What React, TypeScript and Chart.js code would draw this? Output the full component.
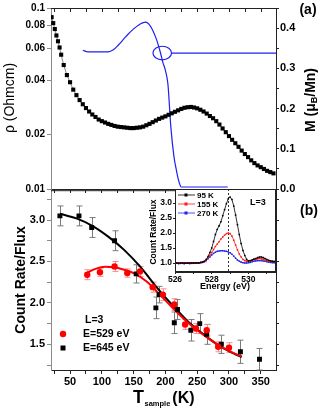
import React, { useEffect, useRef } from "react";
import { Chart, registerables } from "chart.js";
Chart.register(...registerables);

const FF = '"Liberation Sans", Arial, Helvetica, sans-serif';
const AX = "#222";
const AXL = "#8a8a8a";
const BLUE = "#1f1ff2";
const RED = "#ff0000";

// ===== panel (a): resistivity and magnetisation vs temperature =====
const tempMin = 20;
const tempMax = 374;
const tempTicks = [25, 50, 75, 100, 125, 150, 175, 200, 225, 250, 275, 300, 325, 350];

const rhoT = [21, 23.5, 26, 28.5, 31, 33.5, 36, 40, 45, 50, 55, 60, 65, 70, 75, 80, 85, 90, 95, 100, 105, 110, 115, 120, 125, 130, 135, 140, 145, 150, 155, 160, 165, 170, 175, 180, 185, 190, 195, 200, 205, 210, 215, 220, 225, 230, 235, 240, 245, 250, 255, 260, 265, 270, 275, 280, 285, 290, 295, 300, 305, 310, 315, 320, 325, 330, 335, 340, 345, 350, 355, 360, 365, 370];
const rhoV = [0.089, 0.0825, 0.0765, 0.0705, 0.0655, 0.0605, 0.0552, 0.0484, 0.0426, 0.0389, 0.0354, 0.033, 0.031, 0.0294, 0.028, 0.0268, 0.0258, 0.025, 0.0242, 0.0237, 0.0233, 0.0229, 0.0226, 0.0223, 0.0221, 0.022, 0.0219, 0.0218, 0.0217, 0.0217, 0.0218, 0.0219, 0.0221, 0.0225, 0.0229, 0.0234, 0.0239, 0.0244, 0.0248, 0.0252, 0.0257, 0.0262, 0.0267, 0.0272, 0.0277, 0.0281, 0.0283, 0.0284, 0.0282, 0.0279, 0.0274, 0.0268, 0.0261, 0.0253, 0.0246, 0.0237, 0.0227, 0.0216, 0.0206, 0.0196, 0.0187, 0.0179, 0.0171, 0.0163, 0.0156, 0.015, 0.0144, 0.0139, 0.0135, 0.0132, 0.0129, 0.0126, 0.0124, 0.0122];
const rhoTicks = [0.01, 0.02, 0.04, 0.06, 0.08, 0.1];

const magT = [70, 78, 95, 110, 118, 126, 134, 142, 150, 158, 164, 169, 174, 179, 184, 188, 192, 196, 200, 204, 208.5, 213.5, 217.5, 221, 225, 298];
const magV = [0.345, 0.341, 0.341, 0.341, 0.346, 0.358, 0.372, 0.386, 0.398, 0.408, 0.413, 0.415, 0.41, 0.398, 0.38, 0.362, 0.34, 0.315, 0.295, 0.26, 0.155, 0.08, 0.045, 0.02, 0.005, 0.005];
const magTicks = [0, 0.05, 0.1, 0.15, 0.2, 0.25, 0.3, 0.35, 0.4, 0.45];
const pointerT = 195;
const pointerM = 0.338;
const guideT = [209.5, 374];
const guideM = [0.338, 0.338];

// ===== panel (b): count rate vs sample temperature =====
const e645T = [34, 64, 84, 120, 154, 185, 190, 214, 219, 240, 254, 265, 288, 318, 348];
const e645V = [3.05, 3.05, 2.91, 2.75, 2.35, 1.94, 2.1, 1.76, 1.92, 1.67, 1.75, 1.62, 1.5, 1.41, 1.32];
const e645E = [0.12, 0.12, 0.12, 0.12, 0.11, 0.13, 0.1, 0.13, 0.12, 0.13, 0.12, 0.12, 0.11, 0.14, 0.13];
const e529T = [77, 97, 120, 140, 160, 180, 196, 214, 231, 248, 265, 283, 300];
const e529V = [2.34, 2.37, 2.44, 2.36, 2.38, 2.19, 2.1, 1.98, 1.74, 1.69, 1.67, 1.47, 1.46];
const e529E = [0.06, 0.05, 0.06, 0.05, 0.06, 0.06, 0.07, 0.07, 0.06, 0.06, 0.07, 0.06, 0.06];
const fit645T = [34, 60, 85, 110, 135, 160, 185, 210, 235, 260, 285, 310, 320];
const fit645V = [3.076, 3.02, 2.93, 2.8, 2.64, 2.44, 2.2, 1.98, 1.78, 1.62, 1.48, 1.38, 1.345];
const fit529T = [78, 90, 105, 120, 135, 150, 170, 190, 210, 230, 250, 270, 290, 310, 320];
const fit529V = [2.37, 2.41, 2.435, 2.43, 2.4, 2.36, 2.26, 2.11, 1.95, 1.8, 1.67, 1.56, 1.46, 1.385, 1.355];
const countMin = 1.19;
const countMax = 3.36;
const countTicks = [1.25, 1.5, 1.75, 2.0, 2.25, 2.5, 2.75, 3.0, 3.25];
const legendLabels = ["L=3", "E=529 eV", "E=645 eV"];

// ===== inset: spectra =====
const energy = [526.0, 526.1, 526.2, 526.3, 526.4, 526.5, 526.6, 526.7, 526.8, 526.9, 527.0, 527.1, 527.2, 527.3, 527.4, 527.5, 527.6, 527.7, 527.8, 527.9, 528.0, 528.1, 528.2, 528.3, 528.4, 528.5, 528.6, 528.7, 528.8, 528.9, 529.0, 529.1, 529.2, 529.3, 529.4, 529.5, 529.6, 529.7, 529.8, 529.9, 530.0, 530.1, 530.2, 530.3, 530.4, 530.5, 530.6, 530.7, 530.8, 530.9, 531.0, 531.1, 531.2, 531.3, 531.4, 531.5];
const k95 = [1.0, 1.0, 0.99, 1.0, 1.0, 1.0, 0.99, 1.0, 1.0, 1.0, 1.0, 1.0, 1.01, 1.0, 1.02, 1.03, 1.06, 1.12, 1.22, 1.35, 1.5, 1.72, 1.95, 2.12, 2.24, 2.38, 2.58, 2.78, 2.98, 3.14, 3.2, 3.12, 2.9, 2.6, 2.28, 1.95, 1.65, 1.42, 1.25, 1.12, 1.07, 1.08, 1.1, 1.13, 1.15, 1.18, 1.2, 1.2, 1.18, 1.15, 1.12, 1.09, 1.07, 1.06, 1.05, 1.04];
const k155 = [1.0, 1.0, 1.0, 0.99, 1.0, 1.0, 1.0, 1.0, 0.99, 1.0, 1.0, 1.0, 1.0, 1.01, 1.02, 1.03, 1.05, 1.1, 1.17, 1.26, 1.35, 1.45, 1.55, 1.63, 1.71, 1.8, 1.87, 1.93, 1.98, 2.0, 1.98, 1.9, 1.76, 1.6, 1.44, 1.3, 1.2, 1.12, 1.08, 1.06, 1.06, 1.07, 1.09, 1.11, 1.13, 1.14, 1.15, 1.14, 1.12, 1.1, 1.08, 1.07, 1.06, 1.05, 1.05, 1.04];
const k270 = [0.99, 0.99, 0.98, 0.99, 0.99, 0.98, 0.99, 0.99, 0.98, 0.99, 0.99, 0.99, 0.99, 1.0, 1.01, 1.02, 1.04, 1.08, 1.14, 1.2, 1.27, 1.32, 1.36, 1.39, 1.4, 1.41, 1.41, 1.4, 1.39, 1.37, 1.34, 1.29, 1.23, 1.16, 1.1, 1.06, 1.03, 1.01, 1.0, 1.0, 1.01, 1.02, 1.04, 1.06, 1.07, 1.08, 1.08, 1.08, 1.07, 1.06, 1.04, 1.03, 1.02, 1.01, 1.01, 1.0];
const insetLabels = ["95 K", "155 K", "270 K"];
const insetColors = ["#000000", "#ff1a1a", "#1f1ff2"];
const energyTicks = [526, 527, 528, 529, 530, 531];
const insetTicks = [1.0, 1.5, 2.0, 2.5, 3.0];
const peakE = 528.9;

const xy = (xs: number[], ys: number[]) => xs.map((x, i) => ({ x, y: ys[i] }));
const f = (size: number, weight = "bold") => `${weight} ${size}px ${FF}`;
const setTicks = (vals: number[]) => (s: any) => {
  s.ticks = vals.map((v) => ({ value: v }));
};
const grid = (color: string, len: number) => ({
  drawOnChartArea: false,
  drawTicks: true,
  tickLength: len,
  color,
  lineWidth: 1,
});

function txt(ctx: CanvasRenderingContext2D, s: string, x: number, y: number, font: string, align: CanvasTextAlign = "center", color = "#000", rot = 0) {
  ctx.save();
  ctx.translate(x, y);
  if (rot) ctx.rotate(rot);
  ctx.font = font;
  ctx.fillStyle = color;
  ctx.textAlign = align;
  ctx.textBaseline = "middle";
  ctx.fillText(s, 0, 0);
  ctx.restore();
}

function seg(ctx: CanvasRenderingContext2D, x1: number, y1: number, x2: number, y2: number) {
  ctx.beginPath();
  ctx.moveTo(x1, y1);
  ctx.lineTo(x2, y2);
  ctx.stroke();
}

const baseOpts = {
  animation: false as const,
  responsive: false,
  devicePixelRatio: 1,
  events: [] as any[],
  plugins: { legend: { display: false }, tooltip: { enabled: false } },
};

function topConfig(): any {
  const decor = {
    id: "topDecor",
    afterDatasetsDraw(chart: any) {
      const { ctx, chartArea: a, scales } = chart;
      const sx = scales.x;
      const sy = scales.yR;
      ctx.save();
      ctx.strokeStyle = BLUE;
      ctx.lineWidth = 1.2;
      ctx.beginPath();
      ctx.ellipse(sx.getPixelForValue(pointerT), sy.getPixelForValue(pointerM), 9.3, 6.8, 0, 0, Math.PI * 2);
      ctx.stroke();
      ctx.strokeStyle = AX;
      ctx.lineWidth = 1;
      seg(ctx, a.left, a.top + 0.5, a.right, a.top + 0.5);
      for (const t of tempTicks) {
        const px = Math.round(sx.getPixelForValue(t)) + 0.5;
        seg(ctx, px, a.top, px, a.top + 4);
      }
      ctx.restore();
    },
    afterDraw(chart: any) {
      const { ctx } = chart;
      txt(ctx, "ρ (Ohmcm)", 10, 98, f(14, "normal"), "center", "#000", -Math.PI / 2);
      txt(ctx, "(a)", 308, 10, f(14));
      // right axis title with subscript
      ctx.save();
      ctx.translate(311, 100);
      ctx.rotate(-Math.PI / 2);
      ctx.fillStyle = "#000";
      ctx.textBaseline = "middle";
      ctx.textAlign = "left";
      const p1 = "M (μ", p2 = "B", p3 = "/Mn)";
      ctx.font = f(14);
      const w1 = ctx.measureText(p1).width, w3 = ctx.measureText(p3).width;
      ctx.font = f(9);
      const w2 = ctx.measureText(p2).width;
      let x0 = -(w1 + w2 + w3) / 2;
      ctx.font = f(14);
      ctx.fillText(p1, x0, 0);
      ctx.font = f(9);
      ctx.fillText(p2, x0 + w1, 4);
      ctx.font = f(14);
      ctx.fillText(p3, x0 + w1 + w2, 0);
      ctx.restore();
    },
  };
  return {
    type: "scatter",
    data: {
      datasets: [
        {
          data: xy(rhoT, rhoV),
          yAxisID: "yL",
          showLine: true,
          borderColor: "#6a6a6a",
          borderWidth: 0.8,
          pointStyle: "rect",
          pointRadius: 2.9,
          pointBackgroundColor: "#000",
          pointBorderWidth: 0,
        },
        {
          data: xy(magT, magV),
          yAxisID: "yR",
          showLine: true,
          borderColor: BLUE,
          borderWidth: 1.2,
          pointRadius: 0,
          cubicInterpolationMode: "monotone",
        },
        {
          data: xy(guideT, guideM),
          yAxisID: "yR",
          showLine: true,
          borderColor: BLUE,
          borderWidth: 1.2,
          pointRadius: 0,
        },
      ],
    },
    options: {
      ...baseOpts,
      layout: { padding: { top: 7, left: 0, right: 0, bottom: 0 } },
      scales: {
        x: {
          type: "linear",
          position: "bottom",
          min: tempMin,
          max: tempMax,
          afterBuildTicks: setTicks(tempTicks),
          afterFit: (s: any) => {
            s.height = 11;
          },
          ticks: { display: false, autoSkip: false },
          grid: grid(AX, 4),
          border: { color: AX },
        },
        yL: {
          type: "logarithmic",
          position: "left",
          min: 0.01,
          max: 0.1,
          afterBuildTicks: setTicks(rhoTicks),
          afterFit: (s: any) => {
            s.width = 51;
          },
          ticks: {
            autoSkip: false,
            color: "#000",
            padding: 2,
            font: { family: FF, size: 10, weight: "bold" },
            callback: (v: any) => (Number(v) >= 0.1 ? "0.1" : Number(v).toFixed(2)),
          },
          grid: grid(AXL, 4),
          border: { color: AXL },
        },
        yR: {
          type: "linear",
          position: "right",
          min: 0,
          max: 0.45,
          afterBuildTicks: setTicks(magTicks),
          afterFit: (s: any) => {
            s.width = 46;
          },
          ticks: {
            autoSkip: false,
            color: "#000",
            padding: 1,
            font: { family: FF, size: 11, weight: "bold" },
            callback: (v: any) => {
              const n = Number(v);
              return Math.abs(n * 10 - Math.round(n * 10)) < 1e-6 && n < 0.44 ? n.toFixed(1) : "";
            },
          },
          grid: grid(AX, 3),
          border: { color: AX },
        },
      },
    },
    plugins: [decor],
  };
}

function bottomConfig(): any {
  const decor = {
    id: "bottomDecor",
    beforeDatasetsDraw(chart: any) {
      const { ctx, scales } = chart;
      const sx = scales.x, sy = scales.y;
      const draw = (xs: number[], ys: number[], es: number[], color: string) => {
        ctx.strokeStyle = color;
        ctx.lineWidth = 1;
        xs.forEach((t, i) => {
          const px = Math.round(sx.getPixelForValue(t)) + 0.5;
          const a = sy.getPixelForValue(ys[i] + es[i]);
          const b = sy.getPixelForValue(ys[i] - es[i]);
          seg(ctx, px, a, px, b);
          seg(ctx, px - 3, a, px + 3, a);
          seg(ctx, px - 3, b, px + 3, b);
        });
      };
      ctx.save();
      draw(e645T, e645V, e645E, "#7a7a7a");
      draw(e529T, e529V, e529E, "#ff8a8a");
      ctx.restore();
    },
    afterDraw(chart: any) {
      const { ctx, chartArea: a } = chart;
      ctx.save();
      ctx.strokeStyle = AX;
      ctx.lineWidth = 1;
      seg(ctx, a.left, a.top + 0.5, a.right, a.top + 0.5);
      ctx.restore();
      txt(ctx, "Count Rate/Flux", 21, 100, f(14), "center", "#000", -Math.PI / 2);
      txt(ctx, "(b)", 309, 31, f(14));
      // legend
      txt(ctx, legendLabels[0], 85, 140, f(10.5), "left");
      ctx.save();
      ctx.fillStyle = RED;
      ctx.beginPath();
      ctx.arc(63, 154, 3.2, 0, Math.PI * 2);
      ctx.fill();
      ctx.fillStyle = "#000";
      ctx.fillRect(60.5, 165.5, 5, 5);
      ctx.restore();
      txt(ctx, legendLabels[1], 83, 154, f(10.5), "left");
      txt(ctx, legendLabels[2], 83, 168, f(10.5), "left");
      // x title with subscript
      ctx.save();
      ctx.fillStyle = "#000";
      ctx.textBaseline = "alphabetic";
      ctx.textAlign = "left";
      let x = 133;
      ctx.font = f(18);
      ctx.fillText("T", x, 223);
      x += ctx.measureText("T").width + 0.5;
      ctx.font = f(7.5);
      ctx.fillText("sample", x, 226);
      x += ctx.measureText("sample").width + 2;
      ctx.font = f(16);
      ctx.fillText("(K)", x, 223);
      ctx.restore();
    },
  };
  return {
    type: "scatter",
    data: {
      datasets: [
        {
          data: xy(e529T, e529V),
          pointStyle: "circle",
          pointRadius: 3.2,
          pointBackgroundColor: RED,
          pointBorderWidth: 0,
        },
        {
          data: xy(e645T, e645V),
          pointStyle: "rect",
          pointRadius: 3.5,
          pointBackgroundColor: "#000",
          pointBorderWidth: 0,
        },
        {
          data: xy(fit529T, fit529V),
          showLine: true,
          borderColor: RED,
          borderWidth: 2,
          pointRadius: 0,
          cubicInterpolationMode: "monotone",
        },
        {
          data: xy(fit645T, fit645V),
          showLine: true,
          borderColor: "#000",
          borderWidth: 2,
          pointRadius: 0,
          cubicInterpolationMode: "monotone",
        },
      ],
    },
    options: {
      ...baseOpts,
      layout: { padding: { top: 9, left: 0, right: 0, bottom: 0 } },
      scales: {
        x: {
          type: "linear",
          position: "bottom",
          min: tempMin,
          max: tempMax,
          afterBuildTicks: setTicks(tempTicks),
          afterFit: (s: any) => {
            s.height = 38;
          },
          ticks: {
            autoSkip: false,
            maxRotation: 0,
            color: "#000",
            padding: 1,
            font: { family: FF, size: 11, weight: "bold" },
            callback: (v: any) => (Number(v) % 50 === 0 ? String(v) : ""),
          },
          grid: grid(AX, 4),
          border: { color: AX },
        },
        y: {
          type: "linear",
          position: "left",
          min: countMin,
          max: countMax,
          afterBuildTicks: setTicks(countTicks),
          afterFit: (s: any) => {
            s.width = 51;
          },
          ticks: {
            autoSkip: false,
            color: "#000",
            padding: 2,
            font: { family: FF, size: 11, weight: "bold" },
            callback: (v: any) => {
              const n = Number(v);
              return Math.abs(n * 2 - Math.round(n * 2)) < 1e-6 ? n.toFixed(1) : "";
            },
          },
          grid: grid(AXL, 4),
          border: { color: AXL },
        },
        y2: {
          type: "linear",
          position: "right",
          min: countMin,
          max: countMax,
          afterBuildTicks: setTicks(countTicks),
          afterFit: (s: any) => {
            s.width = 46;
          },
          ticks: { autoSkip: false, callback: () => "" },
          grid: grid(AX, 3),
          border: { color: AX },
        },
      },
    },
    plugins: [decor],
  };
}

function insetConfig(): any {
  const decor = {
    id: "insetDecor",
    beforeDraw(chart: any) {
      const { ctx, chartArea: a } = chart;
      ctx.save();
      ctx.fillStyle = "#fff";
      ctx.fillRect(a.left, a.top, a.right - a.left, a.bottom - a.top);
      ctx.restore();
    },
    beforeDatasetsDraw(chart: any) {
      const { ctx, chartArea: a, scales } = chart;
      const px = Math.round(scales.x.getPixelForValue(peakE)) + 0.5;
      ctx.save();
      ctx.strokeStyle = "#000";
      ctx.lineWidth = 0.8;
      ctx.setLineDash([2, 2]);
      seg(ctx, px, a.top, px, a.bottom);
      ctx.restore();
    },
    afterDraw(chart: any) {
      const { ctx, chartArea: a } = chart;
      ctx.save();
      ctx.strokeStyle = AX;
      ctx.lineWidth = 1;
      ctx.strokeRect(a.left + 0.5, a.top + 0.5, a.right - a.left - 1, a.bottom - a.top - 1);
      insetLabels.forEach((lab, i) => {
        const y = 15 + i * 9;
        ctx.strokeStyle = insetColors[i];
        ctx.lineWidth = 0.8;
        seg(ctx, 38, y, 55, y);
        ctx.fillStyle = insetColors[i];
        ctx.fillRect(44.5, y - 1.5, 3, 3);
        txt(ctx, lab, 57, y + 0.5, f(8), "left");
      });
      ctx.restore();
      txt(ctx, "L=3", 118, 23, f(9));
      txt(ctx, "Count Rate/Flux", 14, 52, f(8.5), "center", "#000", -Math.PI / 2);
      txt(ctx, "Energy (eV)", 85, 107, f(9));
    },
  };
  const ds = [k95, k155, k270].map((vals, i) => ({
    data: xy(energy, vals),
    showLine: true,
    borderColor: insetColors[i],
    borderWidth: 0.8,
    pointStyle: "rect",
    pointRadius: 1.1,
    pointBackgroundColor: insetColors[i],
    pointBorderWidth: 0,
  }));
  return {
    type: "scatter",
    data: { datasets: ds },
    options: {
      ...baseOpts,
      layout: { padding: { top: 9, left: 0, right: 46, bottom: 0 } },
      scales: {
        x: {
          type: "linear",
          position: "bottom",
          min: 526,
          max: 531.5,
          afterBuildTicks: setTicks(energyTicks),
          afterFit: (s: any) => {
            s.height = 28;
          },
          ticks: {
            autoSkip: false,
            maxRotation: 0,
            color: "#000",
            padding: 1,
            font: { family: FF, size: 8.5, weight: "bold" },
            callback: (v: any) => (Number(v) % 2 === 0 ? String(v) : ""),
          },
          grid: grid(AX, 2),
          border: { color: AX },
        },
        y: {
          type: "linear",
          position: "left",
          min: 0.7,
          max: 3.47,
          afterBuildTicks: setTicks(insetTicks),
          afterFit: (s: any) => {
            s.width = 35;
          },
          ticks: {
            autoSkip: false,
            color: "#000",
            padding: 1,
            font: { family: FF, size: 8.5, weight: "bold" },
            callback: (v: any) => Number(v).toFixed(1),
          },
          grid: grid(AX, 2),
          border: { color: AX },
        },
      },
    },
    plugins: [decor],
  };
}

export default function App() {
  const topRef = useRef<HTMLCanvasElement>(null);
  const botRef = useRef<HTMLCanvasElement>(null);
  const insRef = useRef<HTMLCanvasElement>(null);
  useEffect(() => {
    const c1 = new Chart(topRef.current as HTMLCanvasElement, topConfig());
    const c2 = new Chart(botRef.current as HTMLCanvasElement, bottomConfig());
    const c3 = new Chart(insRef.current as HTMLCanvasElement, insetConfig());
    return () => {
      c1.destroy();
      c2.destroy();
      c3.destroy();
    };
  }, []);
  return (
    <div style={{ position: "absolute", left: 0, top: 0, width: 322, height: 408, background: "#fff", overflow: "hidden" }}>
      <canvas ref={topRef} width={322} height={200} style={{ position: "absolute", left: 0, top: 0, width: 322, height: 200 }} />
      <canvas ref={botRef} width={322} height={228} style={{ position: "absolute", left: 0, top: 180, width: 322, height: 228 }} />
      <canvas ref={insRef} width={182} height={120} style={{ position: "absolute", left: 140, top: 180, width: 182, height: 120 }} />
    </div>
  );
}
